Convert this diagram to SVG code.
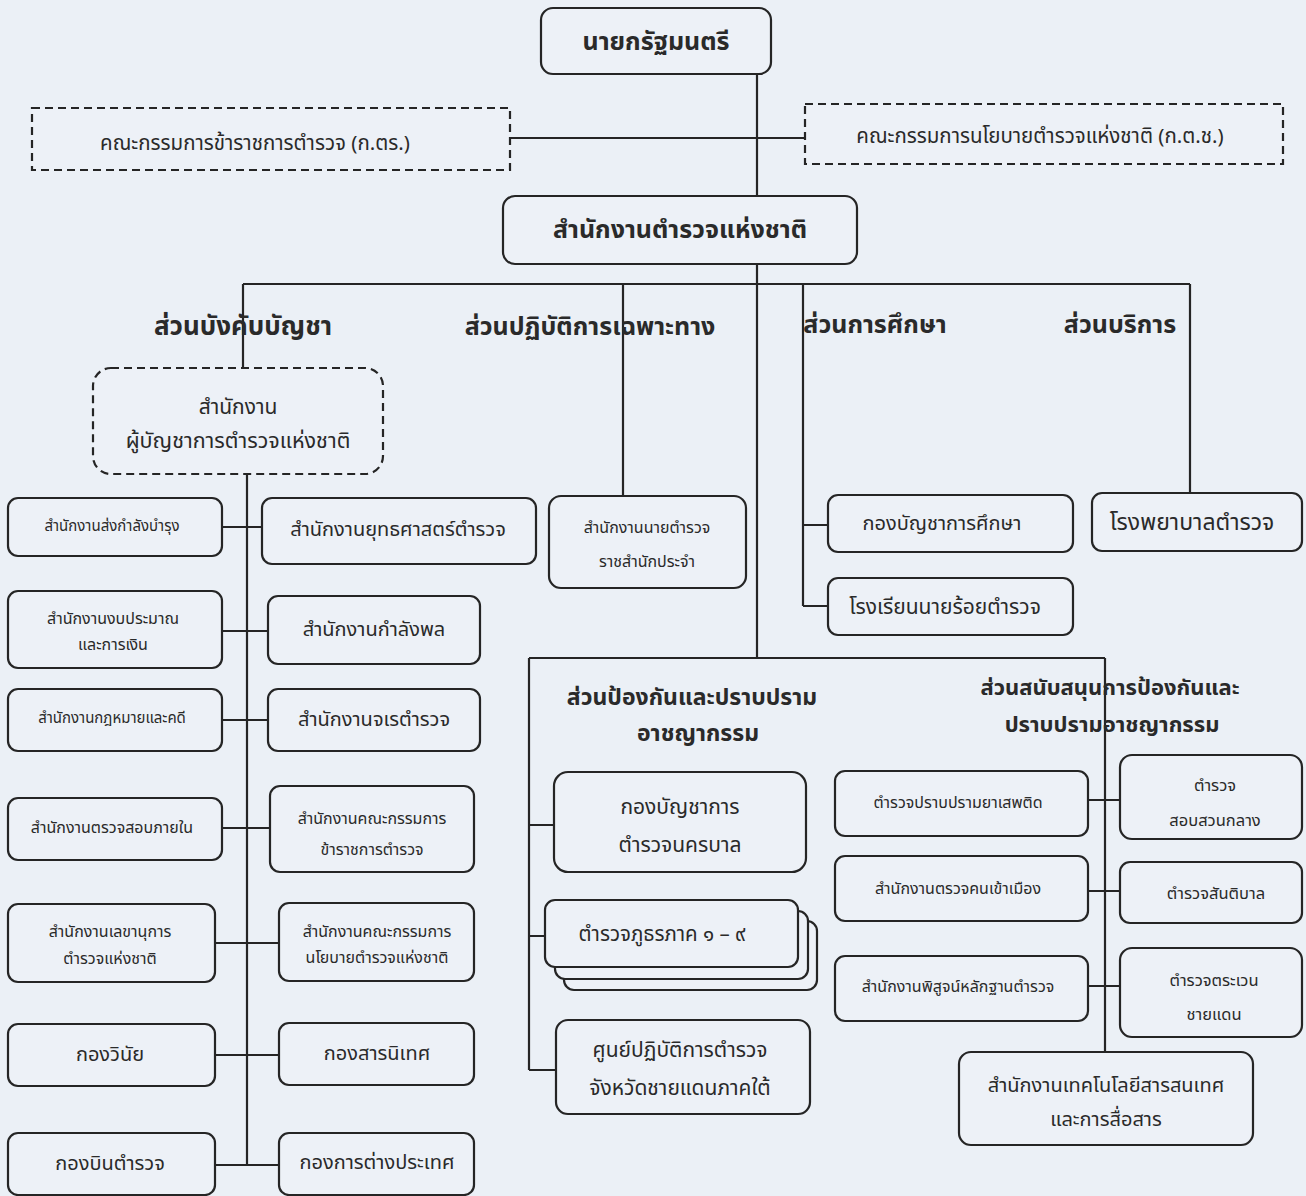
<svg xmlns="http://www.w3.org/2000/svg" width="1306" height="1196" viewBox="0 0 1306 1196">
<style>
.bx{fill:#edf1f7;stroke:#252525;stroke-width:2.2}
.ds{fill:#edf1f7;stroke:#252525;stroke-width:2.2;stroke-dasharray:8 5}
.ln{stroke:#252525;stroke-width:2.2;fill:none}
text{font-family:"Noto Sans Thai","Tahoma","Noto Sans","DejaVu Sans",sans-serif;fill:#2a2a2a;text-anchor:middle;dominant-baseline:central}
.h{font-size:25px;font-weight:bold}
.h2{font-size:23px;font-weight:bold}
.m{font-size:20px}
.s{font-size:15px}
.s6{font-size:16px}
.rc{font-size:16.5px}
.t{font-size:20.5px}
</style>
<rect width="1306" height="1196" fill="#ebf0f6"/>
<g id="connectors">
<path class="ln" d="M757 74V196M510 138H805M757 264V658M243 284H1190M243 284V368M623 284V496M803 284V606M803 525H828M803 606H828M1190 284V493M247 474V1165M222 527H262M222 631H268M222 720H268M222 828H270M215 943H279M215 1055H279M215 1165H279M529 658H1105M529 658V1070M529 825H554M529 936H545M529 1070H556M1105 658V1052M1088 800H1120M1088 891H1120M1088 986H1120"/>
</g>
<g id="pm"><rect class="bx" x="541" y="8" width="230" height="66" rx="12"/><text class="h" x="656" y="42">นายกรัฐมนตรี</text></g>
<g id="ktr"><rect class="ds" x="32" y="108" width="478" height="62"/><text class="t" x="255" y="143">คณะกรรมการข้าราชการตำรวจ (ก.ตร.)</text></g>
<g id="ktch"><rect class="ds" x="805" y="104" width="478" height="60"/><text class="t" x="1040" y="136">คณะกรรมการนโยบายตำรวจแห่งชาติ (ก.ต.ช.)</text></g>
<g id="rtp"><rect class="bx" x="503" y="196" width="354" height="68" rx="12"/><text class="h" x="680" y="230">สำนักงานตำรวจแห่งชาติ</text></g>
<g id="sec1"><text class="h" x="243" y="327" style="font-size:26px">ส่วนบังคับบัญชา</text></g>
<g id="sec2"><text class="h" x="590" y="327">ส่วนปฏิบัติการเฉพาะทาง</text></g>
<g id="sec3"><text class="h" x="875" y="325">ส่วนการศึกษา</text></g>
<g id="sec4"><text class="h" x="1120" y="325">ส่วนบริการ</text></g>
<g id="commissioner"><rect class="ds" x="93" y="368" width="290" height="106" rx="18"/><text class="m" x="238" y="407" style="font-size:21px">สำนักงาน</text><text class="m" x="238" y="441" style="font-size:21.5px">ผู้บัญชาการตำรวจแห่งชาติ</text></g>
<g id="l1"><rect class="bx" x="8" y="498" width="214" height="58" rx="10"/><text class="s" x="112" y="526">สำนักงานส่งกำลังบำรุง</text></g>
<g id="l2"><rect class="bx" x="8" y="591" width="214" height="77" rx="10"/><text class="s6" x="113" y="619">สำนักงานงบประมาณ</text><text class="s6" x="113" y="645">และการเงิน</text></g>
<g id="l3"><rect class="bx" x="8" y="689" width="214" height="62" rx="10"/><text class="s" x="112" y="718">สำนักงานกฎหมายและคดี</text></g>
<g id="l4"><rect class="bx" x="8" y="798" width="214" height="62" rx="10"/><text class="s6" x="112" y="828">สำนักงานตรวจสอบภายใน</text></g>
<g id="l5"><rect class="bx" x="8" y="904" width="207" height="78" rx="10"/><text class="s6" x="110" y="932">สำนักงานเลขานุการ</text><text class="s6" x="110" y="959">ตำรวจแห่งชาติ</text></g>
<g id="l6"><rect class="bx" x="8" y="1024" width="207" height="62" rx="10"/><text class="m" x="110" y="1055">กองวินัย</text></g>
<g id="l7"><rect class="bx" x="8" y="1133" width="207" height="62" rx="10"/><text class="m" x="110" y="1164">กองบินตำรวจ</text></g>
<g id="r1"><rect class="bx" x="262" y="498" width="274" height="66" rx="10"/><text class="m" x="398" y="530">สำนักงานยุทธศาสตร์ตำรวจ</text></g>
<g id="r2"><rect class="bx" x="268" y="596" width="212" height="68" rx="10"/><text class="m" x="374" y="630">สำนักงานกำลังพล</text></g>
<g id="r3"><rect class="bx" x="268" y="689" width="212" height="62" rx="10"/><text class="m" x="374" y="720">สำนักงานจเรตำรวจ</text></g>
<g id="r4"><rect class="bx" x="270" y="786" width="204" height="86" rx="10"/><text class="s6" x="372" y="819">สำนักงานคณะกรรมการ</text><text class="s6" x="372" y="850">ข้าราชการตำรวจ</text></g>
<g id="r5"><rect class="bx" x="279" y="903" width="195" height="78" rx="10"/><text class="s6" x="377" y="932">สำนักงานคณะกรรมการ</text><text class="s6" x="377" y="958">นโยบายตำรวจแห่งชาติ</text></g>
<g id="r6"><rect class="bx" x="279" y="1023" width="195" height="62" rx="10"/><text class="m" x="377" y="1054">กองสารนิเทศ</text></g>
<g id="r7"><rect class="bx" x="279" y="1133" width="195" height="62" rx="10"/><text class="m" x="377" y="1163">กองการต่างประเทศ</text></g>
<g id="royal"><rect class="bx" x="549" y="496" width="197" height="92" rx="12"/><text class="s6" x="647" y="528">สำนักงานนายตำรวจ</text><text class="s6" x="647" y="562">ราชสำนักประจำ</text></g>
<g id="edu1"><rect class="bx" x="828" y="495" width="245" height="57" rx="10"/><text class="m" x="942" y="524">กองบัญชาการศึกษา</text></g>
<g id="edu2"><rect class="bx" x="828" y="578" width="245" height="57" rx="10"/><text class="m" x="945" y="607" style="font-size:21px">โรงเรียนนายร้อยตำรวจ</text></g>
<g id="hosp"><rect class="bx" x="1092" y="493" width="210" height="58" rx="10"/><text class="m" x="1192" y="523" style="font-size:23px">โรงพยาบาลตำรวจ</text></g>
<g id="sec5"><text class="h2" x="692" y="698">ส่วนป้องกันและปราบปราม</text><text class="h2" x="698" y="734">อาชญากรรม</text></g>
<g id="sec6"><text class="h2" x="1110" y="688" style="font-size:22px">ส่วนสนับสนุนการป้องกันและ</text><text class="h2" x="1112" y="725" style="font-size:22px">ปราบปรามอาชญากรรม</text></g>
<g id="mpb"><rect class="bx" x="554" y="772" width="252" height="100" rx="14"/><text class="m" x="680" y="807" style="font-size:21px">กองบัญชาการ</text><text class="m" x="680" y="845" style="font-size:21px">ตำรวจนครบาล</text></g>
<g id="region"><rect class="bx" x="564" y="921" width="253" height="69" rx="10"/><rect class="bx" x="555" y="911" width="253" height="68" rx="10"/><rect class="bx" x="545" y="900" width="253" height="67" rx="10"/><text class="m" x="662" y="934" style="font-size:20.5px">ตำรวจภูธรภาค ๑ – ๙</text></g>
<g id="south"><rect class="bx" x="556" y="1020" width="254" height="94" rx="12"/><text class="m" x="680" y="1050" style="font-size:21px">ศูนย์ปฏิบัติการตำรวจ</text><text class="m" x="680" y="1088" style="font-size:21px">จังหวัดชายแดนภาคใต้</text></g>
<g id="narc"><rect class="bx" x="835" y="771" width="253" height="65" rx="10"/><text class="s6" x="958" y="803">ตำรวจปราบปรามยาเสพติด</text></g>
<g id="immig"><rect class="bx" x="835" y="856" width="253" height="65" rx="10"/><text class="s6" x="958" y="889">สำนักงานตรวจคนเข้าเมือง</text></g>
<g id="forensic"><rect class="bx" x="835" y="956" width="253" height="65" rx="10"/><text class="s6" x="958" y="987">สำนักงานพิสูจน์หลักฐานตำรวจ</text></g>
<g id="cib"><rect class="bx" x="1120" y="755" width="182" height="84" rx="12"/><text class="rc" x="1215" y="785">ตำรวจ</text><text class="rc" x="1215" y="820">สอบสวนกลาง</text></g>
<g id="sb"><rect class="bx" x="1120" y="862" width="182" height="61" rx="10"/><text class="rc" x="1216" y="893">ตำรวจสันติบาล</text></g>
<g id="bpp"><rect class="bx" x="1120" y="948" width="182" height="89" rx="12"/><text class="rc" x="1214" y="980">ตำรวจตระเวน</text><text class="rc" x="1214" y="1014">ชายแดน</text></g>
<g id="ict"><rect class="bx" x="959" y="1052" width="294" height="93" rx="12"/><text class="m" x="1106" y="1086">สำนักงานเทคโนโลยีสารสนเทศ</text><text class="m" x="1106" y="1120">และการสื่อสาร</text></g>
</svg>
